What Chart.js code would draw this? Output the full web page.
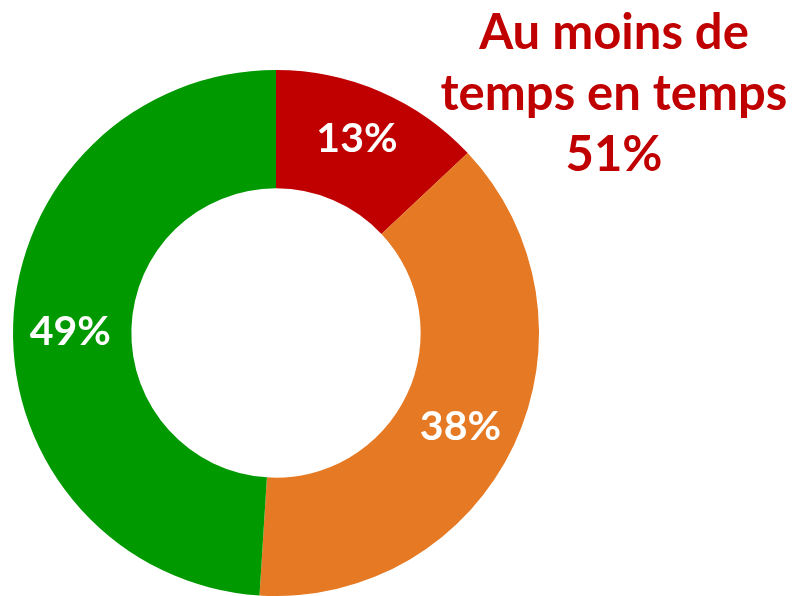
<!DOCTYPE html>
<html>
<head>
<meta charset="utf-8">
<script src="https://cdn.jsdelivr.net/npm/chart.js@4/dist/chart.umd.min.js"></script>
<style>
  html, body { margin: 0; padding: 0; background: #fff; }
  #wrap { width: 794px; height: 596px; }
</style>
</head>
<body>
<div id="wrap"><canvas id="chart" width="794" height="596"></canvas></div>
<script>
// Données
const categories = ['Souvent', 'De temps en temps', 'Jamais'];
const values = [13, 38, 49];
const colors = ['#C00000', '#E67923', '#009900'];
const titleLines = ['Au moins de', 'temps en temps', '51%'];

/* Étiquettes en % au centre de chaque part */
const sliceLabels = {
    id: 'sliceLabels',
    afterDatasetsDraw(chart) {
        const ctx = chart.ctx;
        const meta = chart.getDatasetMeta(0);
        const nudge = [[0, -7], [0, 7], [-2, 5]];   // petit décalage comme dans l'original
        ctx.save();
        ctx.fillStyle = '#ffffff';
        ctx.font = 'bold 41px Lato';
        ctx.textAlign = 'center';
        ctx.textBaseline = 'middle';
        meta.data.forEach((arc, i) => {
            const p = arc.tooltipPosition();
            ctx.fillText(values[i] + '%', p.x + nudge[i][0], p.y + nudge[i][1]);
        });
        ctx.restore();
    }
};

/* Texte en haut à droite */
const sideTitle = {
    id: 'sideTitle',
    afterDraw(chart) {
        const ctx = chart.ctx;
        ctx.save();
        ctx.fillStyle = '#C00000';
        ctx.font = 'bold 49px Lato';
        ctx.textAlign = 'center';
        ctx.textBaseline = 'middle';
        titleLines.forEach((t, i) => {
            ctx.fillText(t, 614, 33 + i * 61);
        });
        ctx.restore();
    }
};

const dataChart = new Chart(
    document.getElementById('chart'),
    {
    type: 'doughnut',
    data: {
        labels: categories,
        datasets: [
        {
            data: values,
            backgroundColor: colors,
            borderWidth: 0
        }
        ]
    },
    options: {
        responsive: false,
        animation: false,
        cutout: '55%',
        layout: {
            padding: { left: 13, right: 255, top: 70, bottom: 0 }
        },
        plugins: {
            legend: { display: false },
            tooltip: { enabled: false }
        }
    },
    plugins: [sliceLabels, sideTitle]
    }
);
</script>
</body>
</html>
